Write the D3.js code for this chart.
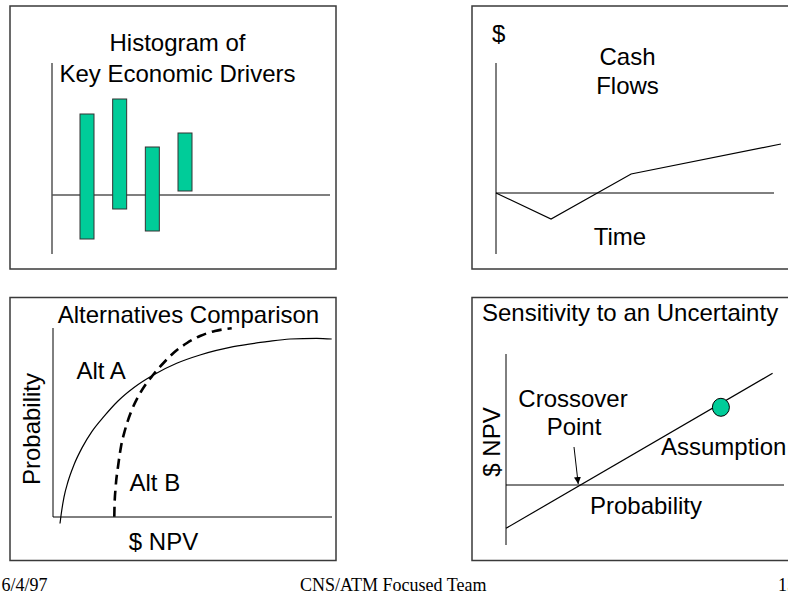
<!DOCTYPE html>
<html>
<head>
<meta charset="utf-8">
<script src="https://cdn.jsdelivr.net/npm/d3@7"></script>
<style>
  html, body { margin: 0; padding: 0; background: #fff; }
  svg { display: block; }
  text { font-family: "Liberation Sans", Arial, sans-serif; fill: #000; }
  .foot { font-family: "Liberation Serif", "Times New Roman", serif; font-size: 18px; }
</style>
</head>
<body>
<script>
// ---------- DATA ----------
// Panel 1: Histogram of key economic drivers (low/high range around zero)
const driverCategories = ["D1", "D2", "D3", "D4"];
const driverLow  = [-44, -14, -36, 4];
const driverHigh = [81, 96, 48, 62];

// Panel 2: Cash flows over time
const cashTime  = [0, 19.8, 48.6, 102.5];
const cashValue = [0, -26, 19, 49];

// Panel 3: Alternatives comparison (cumulative probability vs $ NPV)
const altA_npv  = [2.51, 3.05, 3.94, 5.38, 7.53, 10.39, 13.98, 18.28, 23.30, 29.03, 35.95, 44.34, 52.69, 64.62, 76.59, 84.95, 94.52, 99.89];
const altA_prob = [-3.44, 2.65, 10.53, 18.78, 27.67, 36.56, 45.29, 53.23, 61.38, 68.52, 75.13, 81.32, 85.71, 90.11, 92.75, 94.18, 94.55, 94.18];
const altB_npv  = [21.97, 22.04, 22.47, 23.30, 24.37, 25.81, 27.96, 30.47, 33.33, 35.84, 39.43, 43.37, 48.03, 52.69, 58.06, 64.05];
const altB_prob = [0.16, 5.45, 16.03, 26.61, 37.20, 46.03, 55.56, 63.49, 70.37, 75.13, 81.22, 87.04, 92.06, 95.77, 98.41, 99.84];

// Panel 4: Sensitivity to an uncertainty
const sensProb = [0, 95.9];
const sensNPV  = [-43.3, 111.7];
const assumptionPoint = [77.3, 77.7];
const crossoverPoint = [26.7, 0];

// Texts
const titles = {
  hist: ["Histogram of", "Key Economic Drivers"],
  cash: ["Cash", "Flows"],
  alt: "Alternatives Comparison",
  sens: "Sensitivity to an Uncertainty"
};
const footer = ["6/4/97", "CNS/ATM Focused Team", "15"];

// ---------- DRAW ----------
const W = 788, H = 595;
const svg = d3.select("body").append("svg").attr("width", W).attr("height", H);
svg.append("rect").attr("width", W).attr("height", H).attr("fill", "#fff");

const green = "#00CC99";
const boxStroke = "#3a3a3a";
const FS = 24;

// Panel frames
const frames = [
  [10, 6, 326, 263],
  [472, 6, 330, 263],
  [10, 297.5, 326, 263],
  [472, 297.5, 330, 263]
];
svg.selectAll("rect.frame").data(frames).enter().append("rect")
  .attr("class", "frame")
  .attr("x", d => d[0]).attr("y", d => d[1]).attr("width", d => d[2]).attr("height", d => d[3])
  .attr("fill", "none").attr("stroke", boxStroke).attr("stroke-width", 1.5);

function txt(g, s, x, y, anchor, size) {
  return g.append("text").attr("x", x).attr("y", y)
    .attr("text-anchor", anchor || "middle").attr("font-size", size || FS).text(s);
}

// ----- Panel 1 -----
{
  const g = svg.append("g");
  const x = d3.scalePoint().domain(driverCategories).range([87, 185]);
  const y = d3.scaleLinear().domain([-59, 132]).range([254, 63]);
  const bw = 14;
  g.append("line").attr("x1", 52).attr("x2", 52).attr("y1", y(-59)).attr("y2", y(132))
    .attr("stroke", "#555").attr("stroke-width", 1.5);
  g.append("line").attr("x1", 52).attr("x2", 330).attr("y1", y(0)).attr("y2", y(0))
    .attr("stroke", "#555").attr("stroke-width", 1.5);
  g.selectAll("rect.bar").data(driverCategories).enter().append("rect")
    .attr("x", d => x(d) - bw / 2)
    .attr("y", (d, i) => y(driverHigh[i]))
    .attr("width", bw)
    .attr("height", (d, i) => y(driverLow[i]) - y(driverHigh[i]))
    .attr("fill", green).attr("stroke", "#333").attr("stroke-width", 1);
  txt(g, titles.hist[0], 177.5, 50.5);
  txt(g, titles.hist[1], 177.5, 81.5);
}

// ----- Panel 2 -----
{
  const g = svg.append("g");
  const x = d3.scaleLinear().domain([0, 100]).range([496, 774]);
  const y = d3.scaleLinear().domain([-61, 130]).range([254, 63]);
  g.append("line").attr("x1", x(0)).attr("x2", x(0)).attr("y1", y(-61)).attr("y2", y(130))
    .attr("stroke", "#000").attr("stroke-width", 1);
  g.append("line").attr("x1", x(0)).attr("x2", x(100)).attr("y1", y(0)).attr("y2", y(0))
    .attr("stroke", "#000").attr("stroke-width", 1);
  const line = d3.line().x((d, i) => x(cashTime[i])).y((d, i) => y(cashValue[i]));
  g.append("path").attr("d", line(cashTime)).attr("fill", "none")
    .attr("stroke", "#000").attr("stroke-width", 1.2);
  txt(g, "$", 492, 42, "start");
  txt(g, titles.cash[0], 627.5, 65);
  txt(g, titles.cash[1], 627.5, 94);
  txt(g, "Time", 620, 245);
}

// ----- Panel 3 -----
{
  const g = svg.append("g");
  const x = d3.scaleLinear().domain([0, 100]).range([53, 332]);
  const y = d3.scaleLinear().domain([0, 100]).range([517, 328]);
  g.append("line").attr("x1", x(0)).attr("x2", x(0)).attr("y1", y(0)).attr("y2", y(100))
    .attr("stroke", "#000").attr("stroke-width", 1);
  g.append("line").attr("x1", x(0)).attr("x2", x(100)).attr("y1", y(0)).attr("y2", y(0))
    .attr("stroke", "#000").attr("stroke-width", 1);
  const lineA = d3.line().curve(d3.curveMonotoneX)
    .x((d, i) => x(altA_npv[i])).y((d, i) => y(altA_prob[i]));
  const lineB = d3.line().curve(d3.curveMonotoneX)
    .x((d, i) => x(altB_npv[i])).y((d, i) => y(altB_prob[i]));
  g.append("path").attr("d", lineA(altA_npv)).attr("fill", "none")
    .attr("stroke", "#000").attr("stroke-width", 1.2);
  g.append("path").attr("d", lineB(altB_npv)).attr("fill", "none")
    .attr("stroke", "#000").attr("stroke-width", 2.6).attr("stroke-dasharray", "10,6");
  txt(g, titles.alt, 188.5, 322.5);
  txt(g, "Alt A", 76.5, 378.5, "start");
  txt(g, "Alt B", 129.5, 490.5, "start");
  txt(g, "$ NPV", 163.5, 549.5);
  g.append("text").attr("transform", "translate(39.5,429) rotate(-90)")
    .attr("text-anchor", "middle").attr("font-size", FS).text("Probability");
}

// ----- Panel 4 -----
{
  const g = svg.append("g");
  const x = d3.scaleLinear().domain([0, 100]).range([506, 784]);
  const y = d3.scaleLinear().domain([-60, 131]).range([545, 354]);
  g.append("line").attr("x1", x(0)).attr("x2", x(0)).attr("y1", y(-60)).attr("y2", y(131))
    .attr("stroke", "#000").attr("stroke-width", 1);
  g.append("line").attr("x1", x(0)).attr("x2", x(100)).attr("y1", y(0)).attr("y2", y(0))
    .attr("stroke", "#000").attr("stroke-width", 1);
  const line = d3.line().x((d, i) => x(sensProb[i])).y((d, i) => y(sensNPV[i]));
  g.append("path").attr("d", line(sensProb)).attr("fill", "none")
    .attr("stroke", "#000").attr("stroke-width", 1.2);
  g.append("ellipse").attr("cx", x(assumptionPoint[0])).attr("cy", y(assumptionPoint[1]))
    .attr("rx", 8.5).attr("ry", 9).attr("fill", green).attr("stroke", "#000").attr("stroke-width", 1);
  const defs = svg.append("defs");
  defs.append("marker").attr("id", "ah").attr("viewBox", "0 0 10 10")
    .attr("refX", 10).attr("refY", 5).attr("markerWidth", 7).attr("markerHeight", 7)
    .attr("markerUnits", "userSpaceOnUse").attr("orient", "auto")
    .append("path").attr("d", "M0,0 L10,5 L0,10 z").attr("fill", "#000");
  g.append("line").attr("x1", 574).attr("y1", 447)
    .attr("x2", x(crossoverPoint[0]) - 2).attr("y2", y(crossoverPoint[1]) - 1)
    .attr("stroke", "#000").attr("stroke-width", 1).attr("marker-end", "url(#ah)");
  txt(g, titles.sens, 482, 321, "start");
  txt(g, "Crossover", 573, 406.5);
  txt(g, "Point", 574, 435);
  txt(g, "Assumption", 661, 455, "start");
  txt(g, "Probability", 646, 513.5);
  g.append("text").attr("transform", "translate(499.5,442) rotate(-90)")
    .attr("text-anchor", "middle").attr("font-size", FS).text("$ NPV");
}

// ----- Footer -----
svg.append("text").attr("class", "foot").attr("x", 1.5).attr("y", 590.5).text(footer[0]);
svg.append("text").attr("class", "foot").attr("x", 300).attr("y", 590.5).text(footer[1]);
svg.append("text").attr("class", "foot").attr("x", 778).attr("y", 590.5).text(footer[2]);
</script>
</body>
</html>
